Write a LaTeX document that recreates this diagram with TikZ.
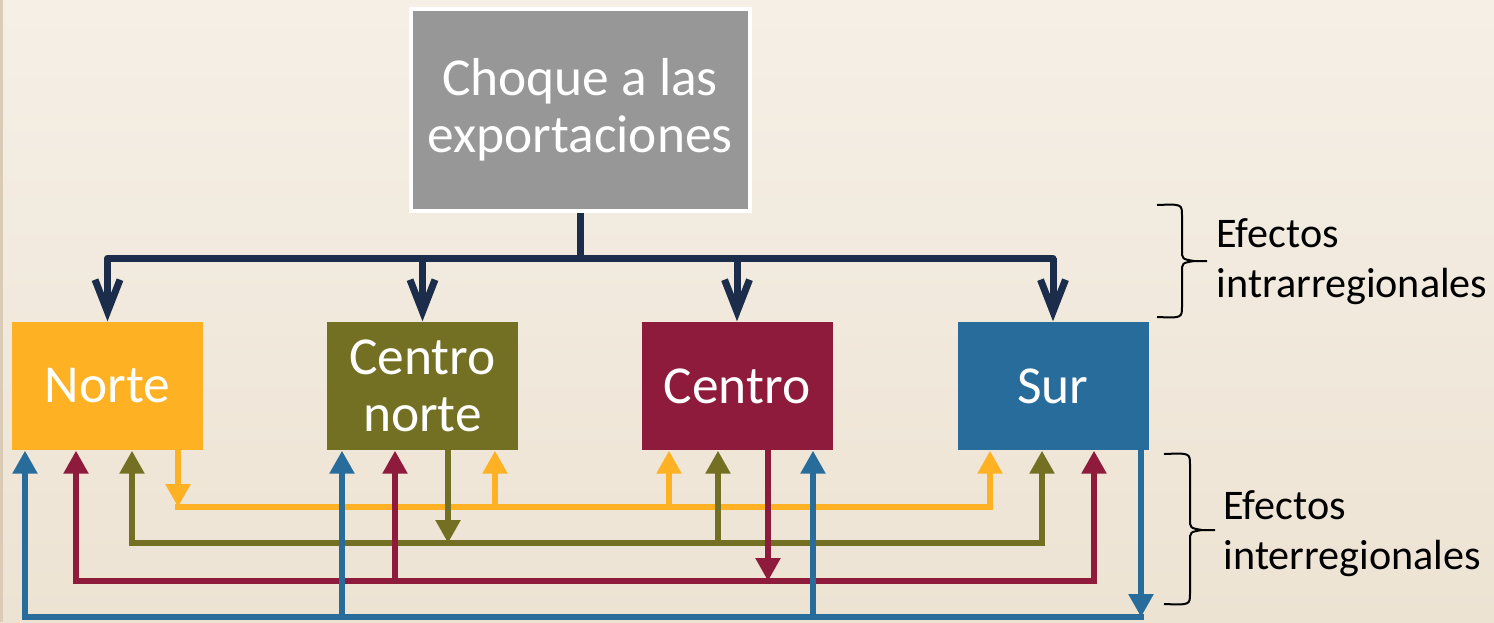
\documentclass[tikz,border=0pt]{standalone}
\usepackage{fontspec}
\setmainfont{Carlito}
\usetikzlibrary{arrows.meta}
\definecolor{bgtop}{HTML}{F5EFE6}
\definecolor{bgbot}{HTML}{EDE3D3}
\definecolor{bgedge}{HTML}{D9CBB5}
\definecolor{shockgray}{HTML}{979797}
\definecolor{navyC}{HTML}{1B2D4A}
\definecolor{orangeC}{HTML}{FDB123}
\definecolor{oliveC}{HTML}{737023}
\definecolor{maroonC}{HTML}{8E1B3B}
\definecolor{blueC}{HTML}{286C9B}
\tikzset{
  region/.style={minimum width=1.91cm, minimum height=1.28cm, inner sep=0pt,
    text=white, align=center, font=\fontsize{15.2}{16.2}\selectfont},
  trunk/.style={draw=navyC, line width=0.7mm},
  flow/.style={draw=#1, line width=0.55mm, line cap=rect},
  flowtip/.style={-{Triangle[width=2.4mm,length=2.3mm]}},
  effbrace/.style={line width=0.2mm},
  effect/.style={anchor=west, align=left, inner sep=0pt,
    font=\fontsize{12}{14.3}\selectfont}
}
\begin{document}
\begin{tikzpicture}[x=0.1mm,y=-0.1mm]
\useasboundingbox (0,0) rectangle (1494,622);
\fill[top color=bgtop, bottom color=bgbot] (0,0) rectangle (1494,622);
\fill[bgedge] (0,0) rectangle (3,622);
% boxes
\node[draw=white, line width=0.4mm, fill=shockgray, minimum width=3.39cm,
  minimum height=2.02cm, inner sep=0pt, text=white, align=center,
  font=\fontsize{15.2}{16.2}\selectfont] (choque) at (580,110) {Choque a las\\exportaciones};
\node[region, fill=orangeC] (norte) at (107.5,386) {Norte};
\node[region, fill=oliveC] (cnorte) at (422.5,386) {Centro\\norte};
\node[region, fill=maroonC] (centro) at (737,386) {Centro};
\node[region, fill=blueC] (sur) at (1053,386) {Sur};
% intrarregionales
\coordinate (bus) at (580,258);
\draw[trunk] (choque.south) -- (bus);
\draw[trunk, line cap=round] (norte.north |- bus) -- (sur.north |- bus);
\foreach \r in {norte,cnorte,centro,sur}
  \draw[trunk, -{Straight Barb[length=3.2mm,width=2.5mm]}] (\r.north |- bus) -- (\r.north);
% interregionales
\draw[flow=orangeC] (178,507) -- (990,507);
\draw[flow=orangeC, flowtip] (norte.south -| 178,0) -- (178,507);
\foreach \x/\r in {495/cnorte,669/centro,990/sur}
  \draw[flow=orangeC, flowtip] (\x,507) -- (\r.south -| \x,0);
\draw[flow=oliveC] (132,543) -- (1042,543);
\draw[flow=oliveC, flowtip] (cnorte.south -| 448,0) -- (448,543);
\foreach \x/\r in {132/norte,718/centro,1042/sur}
  \draw[flow=oliveC, flowtip] (\x,543) -- (\r.south -| \x,0);
\draw[flow=maroonC] (76,581) -- (1094,581);
\draw[flow=maroonC, flowtip] (centro.south -| 768,0) -- (768,581);
\foreach \x/\r in {76/norte,395/cnorte,1094/sur}
  \draw[flow=maroonC, flowtip] (\x,581) -- (\r.south -| \x,0);
\draw[flow=blueC] (25,617) -- (1141,617);
\draw[flow=blueC, flowtip] (sur.south -| 1141,0) -- (1141,617);
\foreach \x/\r in {25/norte,342/cnorte,813/centro}
  \draw[flow=blueC, flowtip] (\x,617) -- (\r.south -| \x,0);
% efectos
\draw[effbrace] (1157,205) .. controls (1182,204) .. (1182,216) -- (1182,250)
  .. controls (1182,259) .. (1194,261) -- (1207,261);
\draw[effbrace] (1194,261) .. controls (1182,263) .. (1182,272) -- (1182,306)
  .. controls (1182,318) .. (1157,317);
\node[effect] (intra) at (1216,262) {Efectos\\intrarregionales};
\draw[effbrace] (1164,454) .. controls (1190,453) .. (1190,465) -- (1190,519)
  .. controls (1190,528) .. (1202,530) -- (1215,530);
\draw[effbrace] (1202,530) .. controls (1190,532) .. (1190,541) -- (1190,593)
  .. controls (1190,605) .. (1164,604);
\node[effect] (inter) at (1223,534) {Efectos\\interregionales};
\end{tikzpicture}
\end{document}
